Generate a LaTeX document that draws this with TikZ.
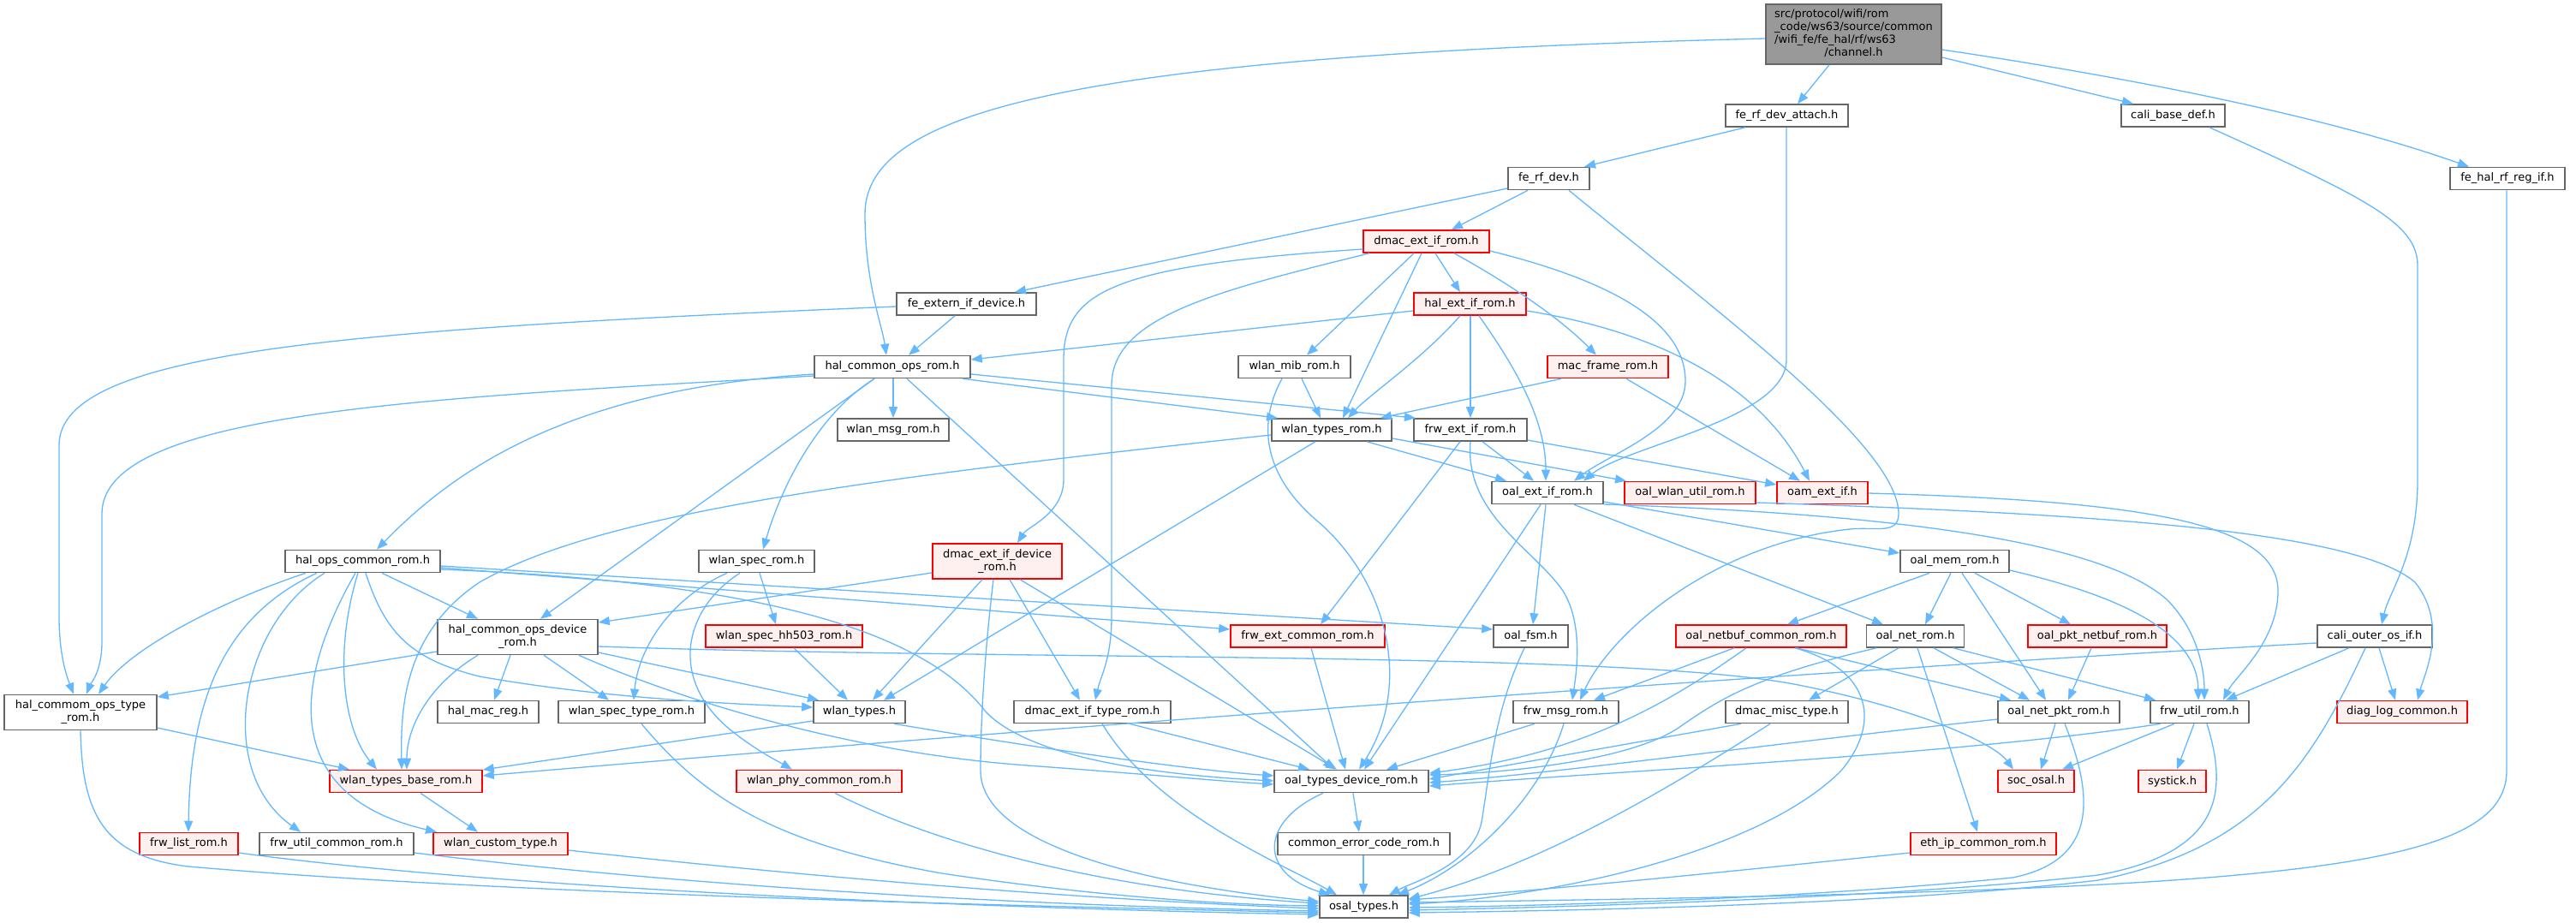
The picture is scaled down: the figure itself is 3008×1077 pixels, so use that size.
\documentclass[tikz,border=0pt]{standalone}
\usepackage{fontspec}
\setmainfont{DejaVu Sans}
\usetikzlibrary{arrows.meta}
\definecolor{edgeblue}{HTML}{63B8FF}
\definecolor{nodegray}{HTML}{666666}
\definecolor{redfill}{HTML}{FFF0F0}
\definecolor{rootfill}{HTML}{999999}
\newcommand\fs{\fontsize{13}{15}\selectfont}
\tikzset{
  nb/.style={draw=nodegray, fill=white, line width=1.6pt, minimum height=26pt, inner sep=0pt, font=\fs, align=center},
  nr/.style={nb, draw=red, fill=redfill},
  two/.style={minimum height=41pt},
  rootbox/.style={nb, fill=rootfill, minimum height=70pt},
  e/.style={draw=edgeblue, line width=1.3pt, -{Triangle[length=13pt,width=10pt]}}
}
\begin{document}
\begin{tikzpicture}[x=1pt,y=-1pt]
\fill[white] (0,0) rectangle (3008,1077);
\useasboundingbox (0,0) rectangle (3008,1077);
% nodes
\node[rootbox, minimum width=205] (root) at (2164.5,40) {\begin{tabular}{@{}l@{}}src/protocol/wifi/rom\\\_code/ws63/source/common\\/wifi\_fe/fe\_hal/rf/ws63\\\multicolumn{1}{@{}c@{}}{/channel.h}\end{tabular}};
\node[nb, minimum width=143] (att) at (2086.5,135) {fe\_rf\_dev\_attach.h};
\node[nb, minimum width=121] (cbd) at (2537.5,135) {cali\_base\_def.h};
\node[nb, minimum width=134] (hrf) at (2928,208.5) {fe\_hal\_rf\_reg\_if.h};
\node[nb, minimum width=95] (frd) at (1808.5,208.5) {fe\_rf\_dev.h};
\node[nr, minimum width=147] (dmac) at (1665.5,282) {dmac\_ext\_if\_rom.h};
\node[nb, minimum width=163] (fext) at (1128.5,355) {fe\_extern\_if\_device.h};
\node[nr, minimum width=131] (hext) at (1716.5,355) {hal\_ext\_if\_rom.h};
\node[nb, minimum width=182] (hcor) at (1042,428.5) {hal\_common\_ops\_rom.h};
\node[nb, minimum width=131] (mib) at (1511.5,428.5) {wlan\_mib\_rom.h};
\node[nr, minimum width=141] (mac) at (1877.5,428.5) {mac\_frame\_rom.h};
\node[nb, minimum width=130] (msg) at (1043,502) {wlan\_msg\_rom.h};
\node[nb, minimum width=140] (wtr) at (1555,502) {wlan\_types\_rom.h};
\node[nb, minimum width=132] (fei) at (1717,502) {frw\_ext\_if\_rom.h};
\node[nb, minimum width=130] (oei) at (1807,575.5) {oal\_ext\_if\_rom.h};
\node[nr, minimum width=153] (owu) at (1973.5,575.5) {oal\_wlan\_util\_rom.h};
\node[nr, minimum width=106] (oam) at (2128,575.5) {oam\_ext\_if.h};
\node[nb, minimum width=181] (hoc) at (423.5,655.5) {hal\_ops\_common\_rom.h};
\node[nb, minimum width=135] (wsr) at (883.5,655.5) {wlan\_spec\_rom.h};
\node[nr, two, minimum width=151] (ded) at (1164.5,655.5) {dmac\_ext\_if\_device\\\_rom.h};
\node[nb, minimum width=127] (mem) at (2282.5,655.5) {oal\_mem\_rom.h};
\node[nb, two, minimum width=187] (hcod) at (604.5,744) {hal\_common\_ops\_device\\\_rom.h};
\node[nr, minimum width=183] (hh) at (915.5,743) {wlan\_spec\_hh503\_rom.h};
\node[nr, minimum width=180] (fec) at (1527,743) {frw\_ext\_common\_rom.h};
\node[nb, minimum width=87] (fsm) at (1787.5,743) {oal\_fsm.h};
\node[nr, minimum width=199] (nbc) at (2056.5,743) {oal\_netbuf\_common\_rom.h};
\node[nb, minimum width=114] (net) at (2236.5,743) {oal\_net\_rom.h};
\node[nr, minimum width=162] (pkt) at (2449,743) {oal\_pkt\_netbuf\_rom.h};
\node[nb, minimum width=134] (cos) at (2773,743) {cali\_outer\_os\_if.h};
\node[nb, two, minimum width=178] (hct) at (94,832) {hal\_commom\_ops\_type\\\_rom.h};
\node[nb, minimum width=118] (hmr) at (570,831.5) {hal\_mac\_reg.h};
\node[nb, minimum width=171] (wst) at (737.5,831.5) {wlan\_spec\_type\_rom.h};
\node[nb, minimum width=107] (wt) at (1003.5,831.5) {wlan\_types.h};
\node[nb, minimum width=183] (det) at (1275.5,831.5) {dmac\_ext\_if\_type\_rom.h};
\node[nb, minimum width=123] (fmsg) at (1828.5,831.5) {frw\_msg\_rom.h};
\node[nb, minimum width=143] (dmt) at (2086.5,831.5) {dmac\_misc\_type.h};
\node[nb, minimum width=142] (onp) at (2404,831.5) {oal\_net\_pkt\_rom.h};
\node[nb, minimum width=115] (fu) at (2568.5,831.5) {frw\_util\_rom.h};
\node[nr, minimum width=152] (diag) at (2805,831.5) {diag\_log\_common.h};
\node[nr, minimum width=178] (wtb) at (474,912.5) {wlan\_types\_base\_rom.h};
\node[nr, minimum width=193] (phy) at (956.5,912.5) {wlan\_phy\_common\_rom.h};
\node[nb, minimum width=180] (otd) at (1578,912.5) {oal\_types\_device\_rom.h};
\node[nr, minimum width=89] (soc) at (2377.5,912.5) {soc\_osal.h};
\node[nr, minimum width=79] (sys) at (2536.5,912.5) {systick.h};
\node[nr, minimum width=115] (fl) at (220.5,985.5) {frw\_list\_rom.h};
\node[nb, minimum width=180] (fuc) at (393,985.5) {frw\_util\_common\_rom.h};
\node[nr, minimum width=157] (wct) at (584.5,985.5) {wlan\_custom\_type.h};
\node[nb, minimum width=201] (cec) at (1592.5,985.5) {common\_error\_code\_rom.h};
\node[nr, minimum width=170] (eth) at (2316,985.5) {eth\_ip\_common\_rom.h};
\node[nb, minimum width=103] (osal) at (1592.5,1059) {osal\_types.h};
% edges
\draw[e] (root.west |- 0,45) .. controls (1250,65) and (1010,130) .. (1010,250) .. controls (1010,330) and (1030,380) .. (1035,0 |- hcor.north);
\draw[e] (2136,0 |- root.south) -- (2099,0 |- att.north);
\draw[e] (root.east |- 0,67) -- (2491,0 |- cbd.north);
\draw[e] (root.east |- 0,58) .. controls (2450,85) and (2700,130) .. (2883,0 |- hrf.north);
\draw[e] (2038,0 |- att.south) -- (1850,0 |- frd.north);
\draw[e] (2086,0 |- att.south) -- (2086,420) .. controls (2086,490) and (1900,520) .. (1849,0 |- oei.north);
\draw[e] (2580,0 |- cbd.south) .. controls (2760,230) and (2823,260) .. (2823,310) -- (2823,560) .. controls (2823,650) and (2790,690) .. (2781,0 |- cos.north);
\draw[e] (2927,0 |- hrf.south) -- (2927,900) .. controls (2927,1020) and (2650,1040) .. (osal.east |- 0,1054);
\draw[e] (1784,0 |- frd.south) -- (1695,0 |- dmac.north);
\draw[e] (frd.west |- 0,220) -- (1185,0 |- fext.north);
\draw[e] (1832,0 |- frd.south) .. controls (2000,360) and (2217,520) .. (2217,600) .. controls (2217,625) and (2190,615) .. (2160,618) .. controls (2000,635) and (1880,740) .. (1845,0 |- fmsg.north);
\draw[e] (1676,0 |- dmac.south) -- (1705,0 |- hext.north);
\draw[e] (1651,0 |- dmac.south) -- (1526,0 |- mib.north);
\draw[e] (1660,0 |- dmac.south) -- (1568,0 |- wtr.north);
\draw[e] (1698,0 |- dmac.south) .. controls (1760,330) and (1820,370) .. (1864,0 |- mac.north);
\draw[e] (dmac.west |- 0,291) .. controls (1300,310) and (1242,340) .. (1242,420) -- (1242,560) .. controls (1242,600) and (1200,615) .. (1188,0 |- ded.north);
\draw[e] (1599,0 |- dmac.south) .. controls (1420,340) and (1298,370) .. (1298,450) -- (1298,720) .. controls (1298,770) and (1285,790) .. (1279,0 |- det.north);
\draw[e] (dmac.east |- 0,293) .. controls (1890,330) and (1968,380) .. (1968,445) .. controls (1968,500) and (1880,530) .. (1838,0 |- oei.north);
\draw[e] (1115,0 |- fext.south) -- (1061,0 |- hcor.north);
\draw[e] (fext.west |- 0,358) .. controls (400,385) and (69,410) .. (69,520) -- (69,720) .. controls (69,770) and (80,795) .. (86,0 |- hct.north);
\draw[e] (hext.west |- 0,363) -- (hcor.east |- 0,420);
\draw[e] (1705,0 |- hext.south) .. controls (1660,420) and (1600,460) .. (1574,0 |- wtr.north);
\draw[e] (1717,0 |- hext.south) -- (1717,0 |- fei.north);
\draw[e] (1727,0 |- hext.south) .. controls (1770,430) and (1805,490) .. (1805,0 |- oei.north);
\draw[e] (hext.east |- 0,363) .. controls (1920,385) and (2050,440) .. (2113,0 |- oam.north);
\draw[e] (1043,0 |- hcor.south) -- (1043,0 |- msg.north);
\draw[e] (1124,0 |- hcor.south) -- (1492,0 |- wtr.north);
\draw[e] (hcor.east |- 0,437) -- (1653,0 |- fei.north);
\draw[e] (hcor.west |- 0,437) .. controls (650,455) and (520,560) .. (440,0 |- hoc.north);
\draw[e] (1021,0 |- hcor.south) -- (631,0 |- hcod.north);
\draw[e] (1021,0 |- hcor.south) .. controls (960,480) and (915,560) .. (891,0 |- wsr.north);
\draw[e] (1059,0 |- hcor.south) -- (1558,0 |- otd.north);
\draw[e] (hcor.west |- 0,439) .. controls (500,465) and (119,480) .. (119,600) -- (119,750) .. controls (119,785) and (105,800) .. (101,0 |- hct.north);
\draw[e] (1520,0 |- mib.south) -- (1542,0 |- wtr.north);
\draw[e] (1497,0 |- mib.south) .. controls (1465,500) and (1480,560) .. (1540,610) .. controls (1620,680) and (1650,800) .. (1587,0 |- otd.north);
\draw[e] (1823,0 |- mac.south) -- (1612,0 |- wtr.north);
\draw[e] (1899,0 |- mac.south) -- (2102,0 |- oam.north);
\draw[e] (wtr.west |- 0,508) .. controls (1000,560) and (700,600) .. (560,680) .. controls (470,740) and (468,830) .. (469,0 |- wtb.north);
\draw[e] (1536,0 |- wtr.south) -- (1032,0 |- wt.north);
\draw[e] (1596,0 |- wtr.south) -- (1759,0 |- oei.north);
\draw[e] (wtr.east |- 0,512) -- (1899,0 |- owu.north);
\draw[e] (1705,0 |- fei.south) -- (1542,0 |- fec.north);
\draw[e] (1717,0 |- fei.south) .. controls (1710,600) and (1790,640) .. (1825,690) .. controls (1850,730) and (1840,790) .. (1836,0 |- fmsg.north);
\draw[e] (1731,0 |- fei.south) -- (1791,0 |- oei.north);
\draw[e] (fei.east |- 0,514) -- (oam.west |- 0,566);
\draw[e] (1805,0 |- oei.south) -- (1790,0 |- fsm.north);
\draw[e] (1799,0 |- oei.south) -- (1593,0 |- otd.north);
\draw[e] (oei.east |- 0,586) -- (mem.west |- 0,646);
\draw[e] (1838,0 |- oei.south) -- (2199,0 |- net.north);
\draw[e] (oei.east |- 0,589) .. controls (2200,600) and (2450,630) .. (2530,700) .. controls (2570,740) and (2574,790) .. (2574,0 |- fu.north);
\draw[e] (owu.east |- 0,587) .. controls (2450,600) and (2750,620) .. (2820,680) .. controls (2860,730) and (2830,790) .. (2823,0 |- diag.north);
\draw[e] (oam.east |- 0,576) .. controls (2500,585) and (2660,610) .. (2660,690) .. controls (2660,750) and (2610,790) .. (2596,0 |- fu.north);
\draw[e] (2253,0 |- mem.south) -- (2087,0 |- nbc.north);
\draw[e] (2278,0 |- mem.south) -- (2248,0 |- net.north);
\draw[e] (2291,0 |- mem.south) -- (2389,0 |- onp.north);
\draw[e] (2306,0 |- mem.south) -- (2418,0 |- pkt.north);
\draw[e] (mem.east |- 0,666) .. controls (2450,690) and (2566,730) .. (2567,0 |- fu.north);
\draw[e] (2258,0 |- net.south) -- (2370,0 |- onp.north);
\draw[e] (2281,0 |- net.south) -- (2517,0 |- fu.north);
\draw[e] (2217,0 |- net.south) -- (2112,0 |- dmt.north);
\draw[e] (2239,0 |- net.south) -- (2309,0 |- eth.north);
\draw[e] (2191,0 |- net.south) .. controls (2050,790) and (2010,815) .. (1960,850) .. controls (1900,890) and (1750,903) .. (otd.east |- 0,905);
\draw[e] (2025,0 |- nbc.south) -- (1861,0 |- fmsg.north);
\draw[e] (2039,0 |- nbc.south) .. controls (1950,820) and (1850,880) .. (otd.east |- 0,903);
\draw[e] (2096,0 |- nbc.south) .. controls (2180,780) and (2200,840) .. (2150,900) .. controls (2050,1000) and (1800,1048) .. (osal.east |- 0,1056);
\draw[e] (2098,0 |- nbc.south) -- (2348,0 |- onp.north);
\draw[e] (2442,0 |- pkt.south) -- (2415,0 |- onp.north);
\draw[e] (2400,0 |- onp.south) -- (2383,0 |- soc.north);
\draw[e] (onp.west |- 0,840) .. controls (2100,865) and (1800,905) .. (otd.east |- 0,914);
\draw[e] (2411,0 |- onp.south) .. controls (2445,930) and (2450,1005) .. (2350,1025) .. controls (2100,1050) and (1800,1058) .. (osal.east |- 0,1060);
\draw[e] (2539,0 |- fu.south) -- (2408,0 |- soc.north);
\draw[e] (2562,0 |- fu.south) -- (2542,0 |- sys.north);
\draw[e] (2523,0 |- fu.south) .. controls (2300,880) and (1900,900) .. (otd.east |- 0,918);
\draw[e] (2577,0 |- fu.south) .. controls (2600,920) and (2600,995) .. (2450,1022) .. controls (2200,1050) and (1800,1060) .. (osal.east |- 0,1063);
\draw[e] (2743,0 |- cos.south) -- (2599,0 |- fu.north);
\draw[e] (2778,0 |- cos.south) -- (2797,0 |- diag.north);
\draw[e] (2762,0 |- cos.south) .. controls (2700,890) and (2640,990) .. (2450,1028) .. controls (2200,1058) and (1800,1064) .. (osal.east |- 0,1066);
\draw[e] (cos.west |- 0,751) .. controls (2000,790) and (1100,860) .. (wtb.east |- 0,906);
\draw[e] (2033,0 |- dmt.south) -- (otd.east |- 0,910);
\draw[e] (2067,0 |- dmt.south) .. controls (1950,920) and (1800,1010) .. (osal.east |- 0,1050);
\draw[e] (1792,0 |- fmsg.south) -- (1619,0 |- otd.north);
\draw[e] (1826,0 |- fmsg.south) .. controls (1800,930) and (1720,1010) .. (1632,0 |- osal.north);
\draw[e] (1780,0 |- fsm.south) .. controls (1745,830) and (1740,900) .. (1730,960) .. controls (1720,1010) and (1650,1030) .. (1622,0 |- osal.north);
\draw[e] (ded.west |- 0,669) -- (hcod.east |- 0,727);
\draw[e] (1147,0 |- ded.south) -- (1019,0 |- wt.north);
\draw[e] (1179,0 |- ded.south) -- (1261,0 |- det.north);
\draw[e] (1191,0 |- ded.south) -- (1561,0 |- otd.north);
\draw[e] (1160,0 |- ded.south) .. controls (1150,760) and (1145,840) .. (1145,900) .. controls (1145,1000) and (1400,1040) .. (osal.west |- 0,1053);
\draw[e] (357,0 |- hoc.south) .. controls (250,705) and (150,760) .. (115,0 |- hct.north);
\draw[e] (446,0 |- hoc.south) -- (558,0 |- hcod.north);
\draw[e] (418,0 |- hoc.south) .. controls (390,760) and (400,850) .. (440,0 |- wtb.north);
\draw[e] (427,0 |- hoc.south) .. controls (450,740) and (480,770) .. (560,790) .. controls (700,815) and (850,822) .. (wt.west |- 0,826);
\draw[e] (370,0 |- hoc.south) .. controls (260,720) and (222,820) .. (220,0 |- fl.north);
\draw[e] (379,0 |- hoc.south) .. controls (280,730) and (250,900) .. (351,0 |- fuc.north);
\draw[e] (415,0 |- hoc.south) .. controls (340,800) and (330,930) .. (510,0 |- wct.north);
\draw[e] (hoc.east |- 0,663) -- (fec.west |- 0,735);
\draw[e] (hoc.east |- 0,661) -- (fsm.west |- 0,735);
\draw[e] (hoc.east |- 0,665) .. controls (900,680) and (1080,740) .. (1150,830) .. controls (1200,885) and (1350,905) .. (otd.west |- 0,912);
\draw[e] (hcod.west |- 0,761) -- (hct.east |- 0,814);
\draw[e] (558,0 |- hcod.south) .. controls (500,800) and (475,850) .. (475,0 |- wtb.north);
\draw[e] (596,0 |- hcod.south) -- (577,0 |- hmr.north);
\draw[e] (635,0 |- hcod.south) -- (711,0 |- wst.north);
\draw[e] (hcod.east |- 0,762) -- (956,0 |- wt.north);
\draw[e] (676,0 |- hcod.south) .. controls (800,820) and (1000,880) .. (1200,894) .. controls (1350,905) and (1420,912) .. (otd.west |- 0,916);
\draw[e] (hcod.east |- 0,755) .. controls (1200,772) and (1900,760) .. (2100,800) .. controls (2250,830) and (2330,870) .. (2351,0 |- soc.north);
\draw[e] (887,0 |- wsr.south) -- (906,0 |- hh.north);
\draw[e] (849,0 |- wsr.south) .. controls (780,700) and (745,760) .. (740,0 |- wst.north);
\draw[e] (864,0 |- wsr.south) .. controls (800,710) and (780,790) .. (850,850) .. controls (880,875) and (910,890) .. (925,0 |- phy.north);
\draw[e] (927,0 |- hh.south) -- (990,0 |- wt.north);
\draw[e] (hct.east |- 0,850) -- (408,0 |- wtb.north);
\draw[e] (94,0 |- hct.south) .. controls (96,950) and (120,1000) .. (220,1012) .. controls (600,1045) and (1200,1058) .. (osal.west |- 0,1066);
\draw[e] (wt.west |- 0,842) -- (wtb.east |- 0,899);
\draw[e] (1044,0 |- wt.south) .. controls (1250,880) and (1400,900) .. (otd.west |- 0,906);
\draw[e] (749,0 |- wst.south) .. controls (820,930) and (900,985) .. (1100,1020) .. controls (1300,1050) and (1450,1057) .. (osal.west |- 0,1058);
\draw[e] (491,0 |- wtb.south) -- (558,0 |- wct.north);
\draw[e] (975,0 |- phy.south) .. controls (1100,990) and (1300,1040) .. (osal.west |- 0,1055);
\draw[e] (fl.east |- 0,996) .. controls (600,1040) and (1200,1062) .. (osal.west |- 0,1068);
\draw[e] (fuc.east |- 0,996) .. controls (800,1035) and (1200,1058) .. (osal.west |- 0,1064);
\draw[e] (wct.east |- 0,993) .. controls (1000,1030) and (1300,1052) .. (osal.west |- 0,1061);
\draw[e] (1319,0 |- det.south) -- (1529,0 |- otd.north);
\draw[e] (1287,0 |- det.south) .. controls (1350,950) and (1500,1010) .. (1561,0 |- osal.north);
\draw[e] (1531,0 |- fec.south) -- (1571,0 |- otd.north);
\draw[e] (1580,0 |- otd.south) -- (1587,0 |- cec.north);
\draw[e] (1545,0 |- otd.south) .. controls (1470,960) and (1470,1020) .. (1553,0 |- osal.north);
\draw[e] (1592,0 |- cec.south) -- (1592,0 |- osal.north);
\draw[e] (eth.west |- 0,996) .. controls (2000,1020) and (1800,1040) .. (osal.east |- 0,1051);
\end{tikzpicture}
\end{document}
